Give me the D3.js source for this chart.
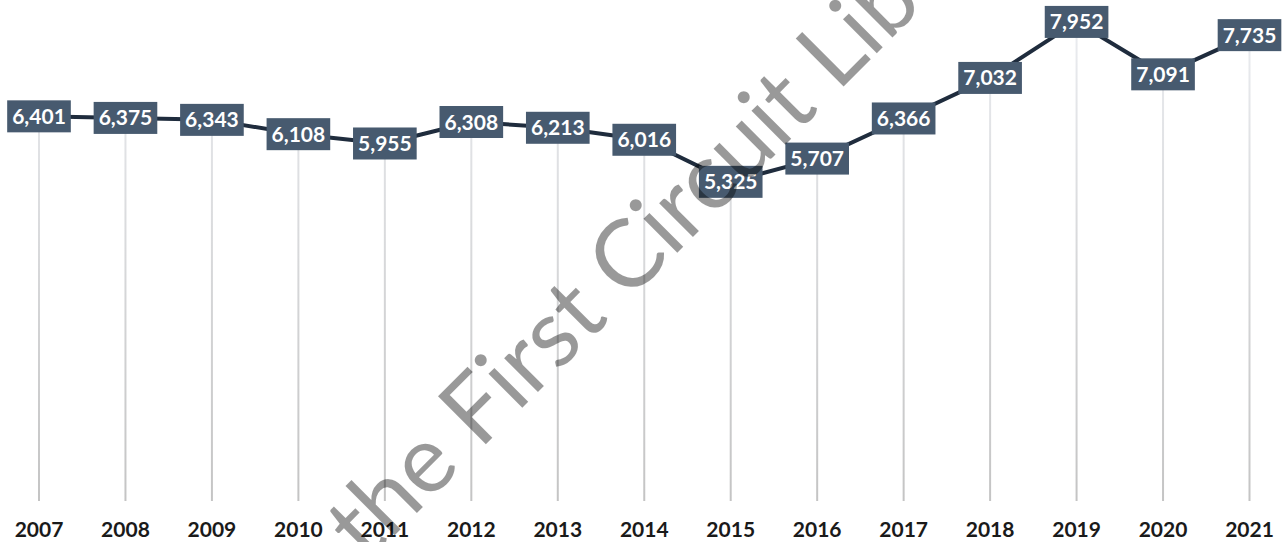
<!DOCTYPE html>
<html>
<head>
<meta charset="utf-8">
<script src="https://cdn.jsdelivr.net/npm/d3@7"></script>
<style>
  html, body { margin: 0; padding: 0; background: #fff; }
  svg { display: block; }
</style>
</head>
<body>
<svg id="chart" width="1286" height="542"></svg>
<script>
const years = ["2007","2008","2009","2010","2011","2012","2013","2014","2015","2016","2017","2018","2019","2020","2021"];
const values = [6401, 6375, 6343, 6108, 5955, 6308, 6213, 6016, 5325, 5707, 6366, 7032, 7952, 7091, 7735];
const watermark = "the First Circuit Library";

const svg = d3.select("#chart");
const baseY = 501;

const x = d3.scalePoint().domain(years).range([39, 1249.5]);
const y = d3.scaleLinear().domain([0, 8000]).range([506, 19]);

const data = years.map((yr, i) => ({ yr, v: values[i] }));

const defs = svg.append("defs");
const grad = defs.append("linearGradient").attr("id", "dropGrad")
  .attr("gradientUnits", "userSpaceOnUse")
  .attr("x1", 0).attr("y1", 0).attr("x2", 0).attr("y2", baseY);
grad.append("stop").attr("offset", "0%").attr("stop-color", "#eceef2");
grad.append("stop").attr("offset", "100%").attr("stop-color", "#c4c4c4");

// drop lines
svg.append("g").selectAll("line").data(data).join("line")
  .attr("x1", d => x(d.yr)).attr("x2", d => x(d.yr))
  .attr("y1", d => y(d.v)).attr("y2", baseY)
  .attr("stroke", "url(#dropGrad)").attr("stroke-width", 2);

// line
svg.append("path").datum(data)
  .attr("fill", "none").attr("stroke", "#1f2c3d").attr("stroke-width", 4)
  .attr("stroke-linejoin", "round")
  .attr("d", d3.line().x(d => x(d.yr)).y(d => y(d.v)));

// labels
const fmt = d3.format(",");
const lab = svg.append("g").selectAll("g").data(data).join("g")
  .attr("transform", d => `translate(${x(d.yr)},${y(d.v)})`);
lab.append("rect").attr("fill", "#475a6f");
lab.append("text")
  .attr("text-anchor", "middle").attr("dy", "0.36em")
  .attr("fill", "#ffffff")
  .style("font-family", "Lato, sans-serif").style("font-weight", 700).style("font-size", "21px")
  .text(d => fmt(d.v));
lab.each(function() {
  const g = d3.select(this);
  const bb = g.select("text").node().getBBox();
  const padX = 5, h = 32;
  g.select("rect")
    .attr("x", -bb.width / 2 - padX).attr("y", -h / 2)
    .attr("width", bb.width + 2 * padX).attr("height", h);
});

// x axis labels
svg.append("g").selectAll("text").data(years).join("text")
  .attr("x", d => x(d)).attr("y", 537)
  .attr("text-anchor", "middle")
  .attr("fill", "#1a1a1a")
  .style("font-family", "Lato, sans-serif").style("font-weight", 700).style("font-size", "21px")
  .text(d => d);

// watermark: rotated -45deg, sized so that "F" and "L" land where they do in the reference
const wm = svg.append("text")
  .attr("fill", "#000").attr("fill-opacity", 0.4)
  .style("font-family", "Lato, sans-serif").style("font-weight", 400).style("font-size", "100px")
  .text(watermark);
const node = wm.node();
const iF = watermark.indexOf("F"), iL = watermark.indexOf("L");
const dist100 = node.getStartPositionOfChar(iL).x - node.getStartPositionOfChar(iF).x;
const fs = 100 * 506 / dist100;
wm.style("font-size", fs + "px");
const offF = node.getStartPositionOfChar(iF).x;
const ang = -45 * Math.PI / 180;
const ux = Math.cos(ang), uy = Math.sin(ang);
// origin of "F" in the picture
const fx = 487 - 0.11 * fs * ux, fy = 443 - 0.11 * fs * uy;
const ox = fx - offF * ux, oy = fy - offF * uy;
wm.attr("transform", `translate(${ox},${oy}) rotate(-45)`);
</script>
</body>
</html>
